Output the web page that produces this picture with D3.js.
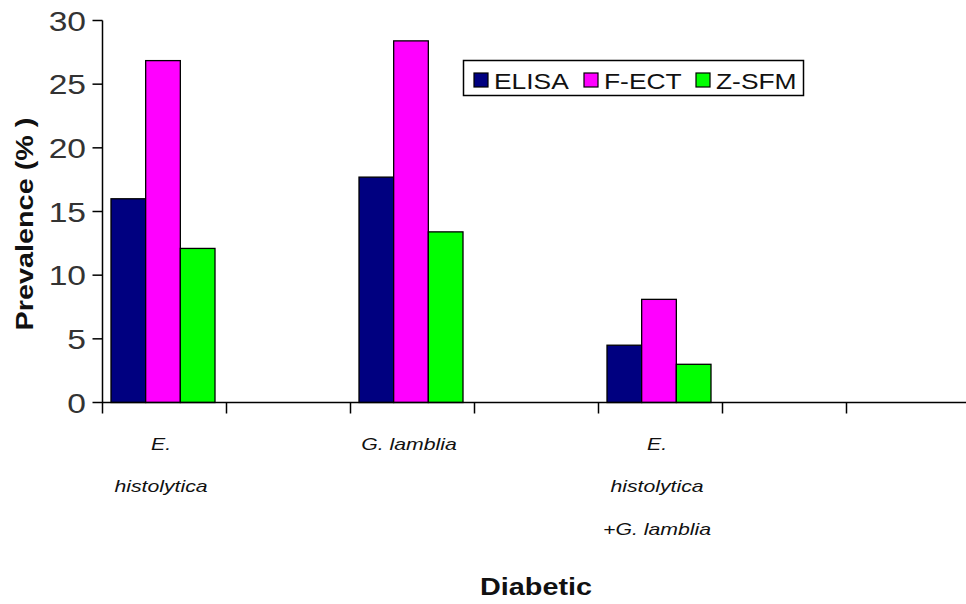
<!DOCTYPE html>
<html>
<head>
<meta charset="utf-8">
<script src="https://cdn.jsdelivr.net/npm/d3@7"></script>
<style>
  html, body { margin: 0; padding: 0; background: #fff; }
  svg { display: block; }
  text { font-family: "Liberation Sans", Arial, sans-serif; }
</style>
</head>
<body>
<svg id="chart" width="966" height="604"></svg>
<script>
// Category slots along the x axis (empty slots leave gaps between groups)
const categories = [
  ["E.", "histolytica"],
  [],
  ["G. lamblia"],
  [],
  ["E.", "histolytica", "+G. lamblia"],
  [],
  []
];
const seriesNames = ["ELISA", "F-ECT", "Z-SFM"];
const seriesColors = ["#000080", "#ff00ff", "#00ff00"];
// Prevalence (%) per category slot; null = no bar
const elisa = [16.0, null, 17.7, null, 4.5, null, null];
const fect  = [26.85, null, 28.4, null, 8.1, null, null];
const zsfm  = [12.1, null, 13.4, null, 3.0, null, null];
const yTicks = [0, 5, 10, 15, 20, 25, 30];
const yTitle = "Prevalence (% )";
const xTitle = "Diabetic";

const series = [elisa, fect, zsfm];
const svg = d3.select("#chart");
const STRETCH = 1.2;

const x = d3.scaleBand().domain(d3.range(categories.length)).range([102, 970]).padding(0);
const y = d3.scaleLinear().domain([0, 30]).range([402.5, 20.5]);
const xInner = d3.scaleBand().domain(d3.range(series.length)).range([9, 113]).padding(0);

// bars
series.forEach((vals, si) => {
  svg.append("g")
    .selectAll("rect")
    .data(vals.map((v, i) => ({ v, i })).filter(d => d.v != null))
    .join("rect")
    .attr("x", d => x(d.i) + xInner(si))
    .attr("y", d => y(d.v))
    .attr("width", xInner.bandwidth())
    .attr("height", d => y(0) - y(d.v))
    .attr("fill", seriesColors[si])
    .attr("stroke", "#000")
    .attr("stroke-width", 1.3);
});

// y axis
const yAxis = svg.append("g").attr("transform", "translate(102.5,0)");
yAxis.append("line").attr("y1", y(30)).attr("y2", y(0)).attr("stroke", "#000").attr("stroke-width", 1.5);
yAxis.selectAll("line.tick").data(yTicks).join("line")
  .attr("class", "tick")
  .attr("x1", -10).attr("x2", 0)
  .attr("y1", d => y(d)).attr("y2", d => y(d))
  .attr("stroke", "#000").attr("stroke-width", 1.5);
svg.append("g").selectAll("text").data(yTicks).join("text")
  .attr("transform", d => `translate(86,${y(d)}) scale(${STRETCH},1)`)
  .attr("text-anchor", "end")
  .attr("dy", "0.36em")
  .attr("font-size", 28)
  .attr("fill", "#333")
  .text(d => d);

// x axis
const xAxis = svg.append("g").attr("transform", `translate(0,${y(0)})`);
xAxis.append("line").attr("x1", 102).attr("x2", 966).attr("stroke", "#000").attr("stroke-width", 1.5);
xAxis.selectAll("line.tick").data(d3.range(categories.length)).join("line")
  .attr("class", "tick")
  .attr("x1", d => x(d) + 0.5).attr("x2", d => x(d) + 0.5)
  .attr("y1", 0).attr("y2", 11)
  .attr("stroke", "#000").attr("stroke-width", 1.5);

// category labels (multi-line, italic)
const lineY = [450, 492, 535];
categories.forEach((lines, i) => {
  lines.forEach((t, li) => {
    svg.append("text")
      .attr("transform", `translate(${x(i) + x.bandwidth() / 2 - 3},${lineY[li]}) scale(1.25,1)`)
      .attr("text-anchor", "middle")
      .attr("font-size", 17)
      .attr("font-style", "italic")
      .attr("fill", "#111")
      .text(t);
  });
});

// axis titles
svg.append("text")
  .attr("transform", `translate(33,224) rotate(-90) scale(${STRETCH},1)`)
  .attr("text-anchor", "middle")
  .attr("font-size", 24)
  .attr("font-weight", "bold")
  .attr("fill", "#111")
  .text(yTitle);

svg.append("text")
  .attr("transform", `translate(536,595) scale(${STRETCH},1)`)
  .attr("text-anchor", "middle")
  .attr("font-size", 24)
  .attr("font-weight", "bold")
  .attr("fill", "#111")
  .text(xTitle);

// legend
const legend = svg.append("g");
legend.append("rect")
  .attr("x", 463.5).attr("y", 60.5).attr("width", 340).attr("height", 35)
  .attr("fill", "#fff").attr("stroke", "#000").attr("stroke-width", 1.5);
const legendX = [474, 584, 696];
seriesNames.forEach((name, i) => {
  legend.append("rect")
    .attr("x", legendX[i]).attr("y", 73).attr("width", 14).attr("height", 14)
    .attr("fill", seriesColors[i]).attr("stroke", "#000").attr("stroke-width", 1.2);
  legend.append("text")
    .attr("transform", `translate(${legendX[i] + 20},89) scale(${STRETCH},1)`)
    .attr("font-size", 22)
    .attr("fill", "#111")
    .text(name);
});
</script>
</body>
</html>
